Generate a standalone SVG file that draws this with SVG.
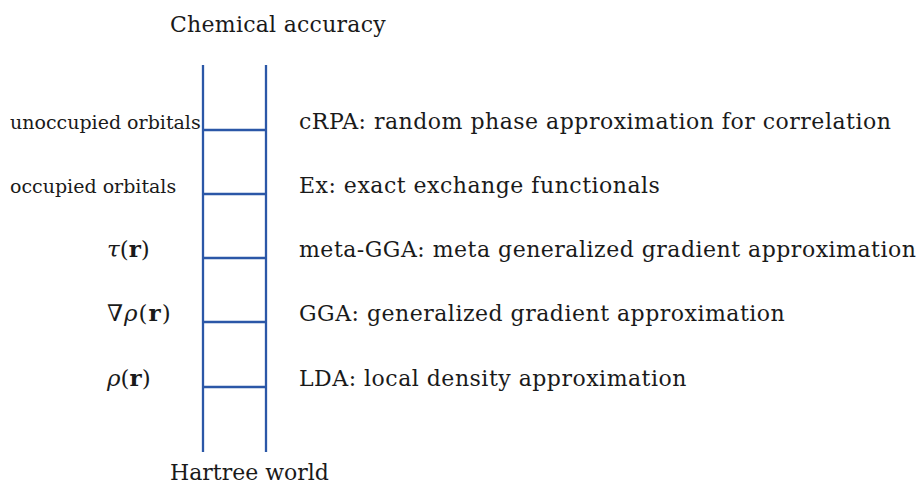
<svg xmlns="http://www.w3.org/2000/svg" width="918" height="484" viewBox="0 0 918 484">
<style>
.rail{stroke:#2b57a7;stroke-width:2.3;fill:none}
.lab{font-size:22px;letter-spacing:0.5px}
.side{font-size:19px}
.math{font-size:23px}
</style>
<rect width="918" height="484" fill="#ffffff"/>
<g font-family="DejaVu Serif, Liberation Serif, serif" fill="#1a1a1a">
<g id="ends" font-size="22">
<text x="170" y="32" letter-spacing="0.25">Chemical accuracy</text>
<text x="170" y="480">Hartree world</text>
</g>
<g id="connectors">
<line class="rail" x1="203" y1="65" x2="203" y2="452"/>
<line class="rail" x1="266" y1="65" x2="266" y2="452"/>
<line class="rail" x1="203" y1="130" x2="266" y2="130"/>
<line class="rail" x1="203" y1="194" x2="266" y2="194"/>
<line class="rail" x1="203" y1="258" x2="266" y2="258"/>
<line class="rail" x1="203" y1="322" x2="266" y2="322"/>
<line class="rail" x1="203" y1="387" x2="266" y2="387"/>
</g>
<g id="rung5">
<text class="side" x="10" y="128.5">unoccupied orbitals</text>
<text class="lab" x="299" y="129">cRPA: random phase approximation for correlation</text>
</g>
<g id="rung4">
<text class="side" x="10" y="193">occupied orbitals</text>
<text class="lab" x="299" y="193">Ex: exact exchange functionals</text>
</g>
<g id="rung3">
<text class="math" x="107" y="257"><tspan font-style="italic">τ</tspan>(<tspan font-weight="bold">r</tspan>)</text>
<text class="lab" x="299" y="257">meta-GGA: meta generalized gradient approximation</text>
</g>
<g id="rung2">
<text class="math" x="107" y="321" letter-spacing="1">∇<tspan font-style="italic">ρ</tspan>(<tspan font-weight="bold">r</tspan>)</text>
<text class="lab" x="299" y="321">GGA: generalized gradient approximation</text>
</g>
<g id="rung1">
<text class="math" x="107" y="386"><tspan font-style="italic">ρ</tspan>(<tspan font-weight="bold">r</tspan>)</text>
<text class="lab" x="299" y="386">LDA: local density approximation</text>
</g>
</g>
</svg>
